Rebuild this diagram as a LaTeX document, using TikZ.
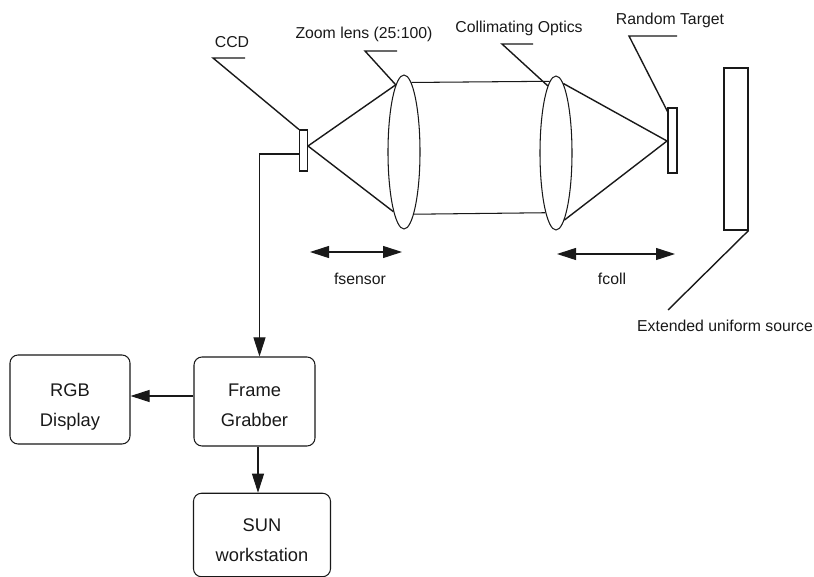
\documentclass[tikz,border=0pt]{standalone}
\usepackage{fontspec}
\setmainfont{Liberation Sans}
\usetikzlibrary{shapes.geometric,arrows.meta}
\definecolor{ink}{gray}{0.1}
\tikzset{
  x=1pt,y=-1pt,
  ln/.style={draw=ink,line width=1.05pt},
  ray/.style={draw=ink,line width=1.4pt},
  lab/.style={inner sep=0pt,text=ink,font=\fontsize{15.8}{18}\selectfont},
  lens/.style={ellipse,draw=ink,line width=1.05pt,inner sep=0pt,minimum width=32pt,minimum height=154pt},
  plate/.style={rectangle,draw=ink,line width=1.05pt,inner sep=0pt},
  blockbox/.style={rectangle,rounded corners=8pt,draw=ink,line width=1.05pt,inner sep=0pt,align=center,
     text=ink,font=\fontsize{18.3}{30}\selectfont},
  dim/.style={ln,{Triangle[length=19pt,width=12pt]}-{Triangle[length=19pt,width=12pt]}},
  flow/.style={ln,-{Triangle[length=19pt,width=12pt]}}
}
\begin{document}
\begin{tikzpicture}
\useasboundingbox (0,0) rectangle (814,577);
% optics
\node[plate,minimum width=8.5pt,minimum height=41pt] (ccd) at (303.7,150.5) {};
\node[lens] (lensA) at (404,152) {};
\node[lens] (lensB) at (556,153) {};
\node[plate,minimum width=9pt,minimum height=65pt] (target) at (672.5,140.5) {};
\node[plate,minimum width=24pt,minimum height=162pt] (source) at (736,149) {};
% rays
\coordinate (focusL) at (308,146);
\coordinate (focusR) at (667,141);
\draw[ray] (focusL) -- (lensA.97);
\draw[ray] (focusL) -- (lensA.260);
\draw[ln] (lensA.84) -- (lensB.95.5);
\draw[ln] (lensA.279.5) -- (lensB.260.5);
\draw[ray] (focusR) -- (lensB.84);
\draw[ray] (focusR) -- (lensB.277);
% labels and leaders
\node[lab] (tccd) at (232,42) {CCD};
\node[lab] (tzoom) at (364,34) {Zoom lens (25:100)};
\node[lab] (tcoll) at (519,28) {Collimating Optics};
\node[lab] (ttarget) at (670,20) {Random Target};
\node[lab] (tsource) at (725,326) {Extended uniform source};
\node[lab] (tfs) at (360,279) {fsensor};
\node[lab] (tfc) at (612,279) {fcoll};
\coordinate (la1) at (245,58); \coordinate (la2) at (213,58);
\draw[ray] (la1) -- (la2) -- (ccd.north west);
\coordinate (lb1) at (397,51); \coordinate (lb2) at (365,51);
\draw[ray] (lb1) -- (lb2) -- (lensA.97);
\coordinate (lc1) at (533,44); \coordinate (lc2) at (502,44);
\draw[ray] (lc1) -- (lc2) -- (lensB.97);
\coordinate (ld1) at (677,36); \coordinate (ld2) at (629,36);
\draw[ray] (ld1) -- (ld2) -- ([yshift=-4pt]target.north west);
\coordinate (le) at (668,310);
\draw[ray] (source.south east) -- (le);
% dimension arrows
\coordinate (da1) at (310,252); \coordinate (da2) at (402,252);
\draw[dim] (da1) -- (da2);
\coordinate (db1) at (557,254); \coordinate (db2) at (675,254);
\draw[dim] (db1) -- (db2);
% blocks
\node[blockbox,minimum width=121pt,minimum height=89pt] (grab) at (254.5,401.5) {\rule{0pt}{20pt}Frame\\Grabber};
\node[blockbox,minimum width=120pt,minimum height=89pt] (rgb) at (70,399.5) {\rule{0pt}{27pt}RGB\\Display};
\node[blockbox,minimum width=137pt,minimum height=83.5pt] (sun) at (262,535) {\rule{0pt}{23pt}SUN\\workstation};
\coordinate (wire) at (259.5,154);
\draw[flow] (ccd.west |- wire) -- (wire) -- (wire |- grab.north);
\draw[flow] (grab.west |- 0,396) -- (rgb.east |- 0,396);
\draw[flow] (258,0 |- grab.south) -- (258,0 |- sun.north);
\end{tikzpicture}
\end{document}
